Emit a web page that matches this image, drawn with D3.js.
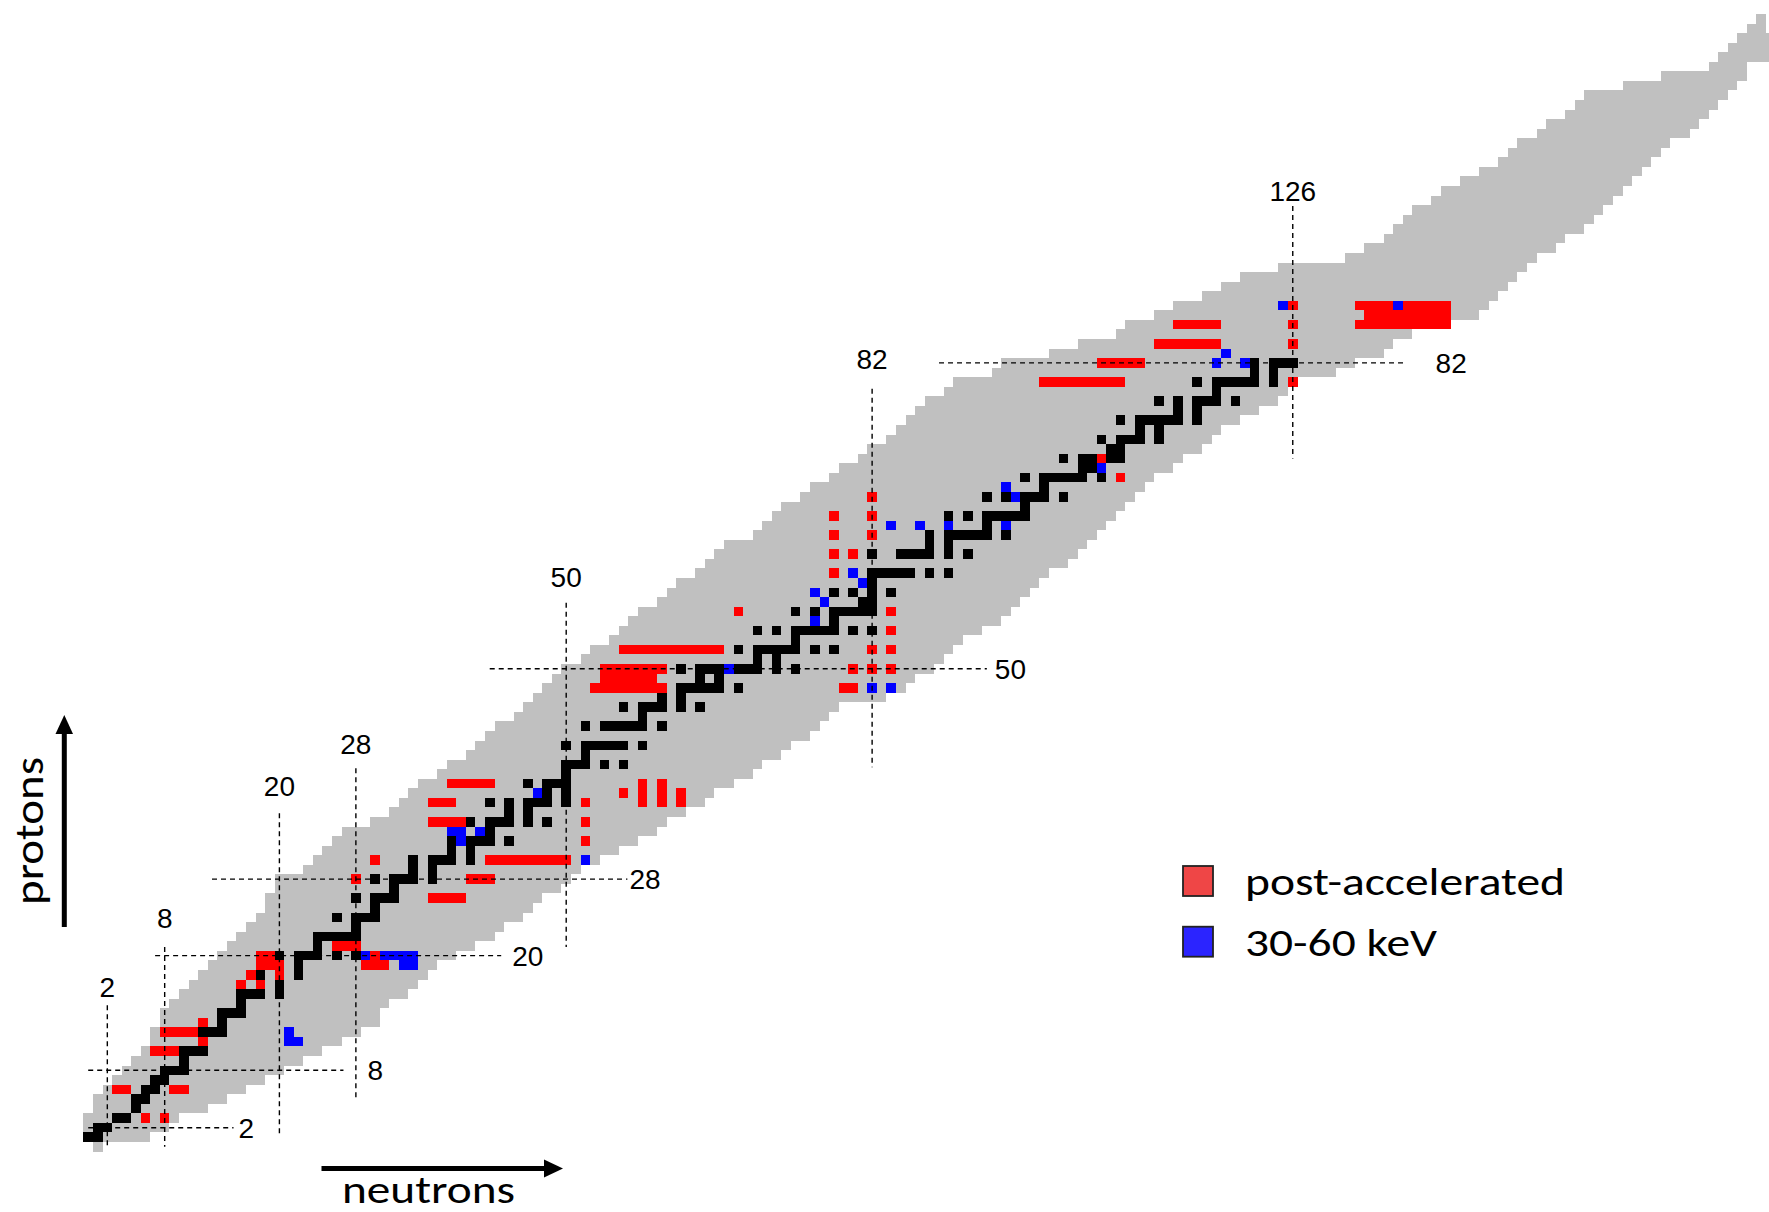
<!DOCTYPE html>
<html><head><meta charset="utf-8">
<script src="https://cdn.jsdelivr.net/npm/d3@7"></script>
<style>html,body{margin:0;padding:0;background:#fff;}svg{display:block;}</style>
</head><body>
<svg id="chart" width="1769" height="1212"></svg>
<script>
// ---------------- DATA ----------------
// Known-nuclide band: for each Z (index = proton number 0..118) the lowest and highest N
const bandMinN = [1,0,0,0,1,1,2,3,4,5,
  6,7,7,8,8,9,10,11,12,13,
  14,15,16,17,18,19,19,20,20,23,
  24,25,26,27,30,32,33,34,35,37,
  38,40,41,42,43,45,46,47,48,49,
  50,52,53,55,56,57,58,60,61,62,
  64,65,66,67,70,71,72,73,75,76,
  78,79,81,82,84,85,86,87,88,90,
  91,95,96,101,104,108,109,112,114,117,
  119,121,125,132,134,136,137,138,139,141,
  142,144,146,148,149,150,152,153,155,156,
  157,161,165,170,171,172,173,174,175];
const bandMaxN = [1,6,8,9,12,14,16,18,20,22,
  24,26,28,30,30,31,33,34,35,36,
  38,40,42,43,45,46,47,49,50,51,
  53,55,57,59,60,62,64,65,67,69,
  70,72,73,75,76,77,78,83,85,86,
  88,89,90,91,93,95,96,97,98,99,
  100,102,103,104,105,106,107,108,109,110,
  111,113,114,116,117,118,120,122,124,125,
  126,130,132,135,136,138,142,145,146,147,
  148,149,150,151,153,154,156,157,158,159,
  160,161,162,163,164,165,167,168,169,170,
  171,172,173,173,177,177,177,175,175];

// Stable nuclides (black): [Z, [N...]]
const stableNuclides = [
  [1,[0,1]],[2,[1,2]],[3,[3,4]],[4,[5]],[5,[5,6]],[6,[6,7]],[7,[7,8]],[8,[8,9,10]],[9,[10]],
  [10,[10,11,12]],[11,[12]],[12,[12,13,14]],[13,[14]],[14,[14,15,16]],[15,[16]],[16,[16,17,18,20]],
  [17,[18,20]],[18,[18,20,22]],[19,[20,22]],[20,[20,22,23,24,26,28]],[21,[24]],[22,[24,25,26,27,28]],
  [23,[28]],[24,[26,28,29,30]],[25,[30]],[26,[28,30,31,32]],[27,[32]],[28,[30,32,33,34,36]],
  [29,[34,36]],[30,[34,36,37,38,40]],[31,[38,40]],[32,[38,40,41,42,44]],[33,[42]],
  [34,[40,42,43,44,46,48]],[35,[44,46]],[36,[42,44,46,47,48,50]],[37,[48,50]],[38,[46,48,49,50]],
  [39,[50]],[40,[50,51,52,54,56]],[41,[52]],[42,[50,52,53,54,55,56,58]],[44,[52,54,55,56,57,58,60]],
  [45,[58]],[46,[56,58,59,60,62,64]],[47,[60,62]],[48,[58,60,62,63,64,65,66,68]],[49,[64,66]],
  [50,[62,64,65,66,67,68,69,70,72,74]],[51,[70,72]],[52,[68,70,71,72,73,74,76,78]],[53,[74]],
  [54,[70,72,74,75,76,77,78,80,82]],[55,[78]],[56,[74,76,78,79,80,81,82]],[57,[81,82]],
  [58,[78,80,82,84]],[59,[82]],[60,[82,83,84,85,86,88,90]],[62,[82,85,86,87,88,90,92]],
  [63,[88,90]],[64,[88,90,91,92,93,94,96]],[65,[94]],[66,[90,92,94,95,96,97,98]],[67,[98]],
  [68,[94,96,98,99,100,102]],[69,[100]],[70,[98,100,101,102,103,104,106]],[71,[104,105]],
  [72,[102,104,105,106,107,108]],[73,[107,108]],[74,[106,108,109,110,112]],[75,[110,112]],
  [76,[108,110,111,112,113,114,116]],[77,[114,116]],[78,[112,114,116,117,118,120]],[79,[118]],
  [80,[116,118,119,120,121,122,124]],[81,[122,124]],[82,[122,124,125,126]]
];

// Post-accelerated beams (red): [Z, [N...]]
const postAccelerated = [
  [3,[6,8]],[6,[3,4,9,10]],[10,[7,8,9]],[11,[12]],[12,[8,9,10,11]],[13,[12]],
  [17,[16,18]],[18,[17,20]],[19,[18,19,20,29,30,31]],[20,[18,19,30]],[21,[26,27,28]],
  [26,[36,37,38,39]],[28,[28,40,41,42]],[30,[30,42,43,44,45,46,47,48,49,50]],[32,[52]],
  [34,[36,37,38,39,52]],[36,[36,37,38,52,58,60,62]],[37,[56,58,60,62]],[38,[38,39,40,41,42,58,60]],
  [48,[53,54,55,56,57,58,59,60,79,80]],[49,[54,55,56,57,58,59]],[50,[54,55,56,57,58,59,60,80,82,84]],
  [52,[56,57,58,59,60,61,62,63,64,65,66,82,84]],[54,[84]],[56,[68,84]],[60,[78]],[62,[78,80]],
  [64,[78,82]],[66,[78,82]],[68,[82]],[70,[108]],[72,[106]],
  [80,[100,101,102,103,104,105,106,107,108,126]],[82,[106,107,108,109,110]],
  [84,[112,113,114,115,116,117,118,126]],
  [86,[114,115,116,117,118,126,133,134,135,136,137,138,139,140,141,142]],
  [87,[134,135,136,137,138,139,140,141,142]],
  [88,[126,133,134,135,136,137,138,139,140,141,142]]
];

// 30-60 keV beams (blue): [Z, [N...]]
const lowEnergy = [
  [11,[21,22]],[12,[21]],[19,[33,34]],[20,[29,31,32,33,34]],[30,[52]],[32,[39]],[33,[38,39,41]],
  [37,[47]],[48,[82,84]],[50,[67]],[55,[76]],[57,[77]],[58,[76]],[59,[81]],[60,[80]],
  [65,[84,87,90,96]],[68,[97]],[69,[96]],[71,[106]],[82,[118,121]],[83,[119]],[88,[125,137]]
];

const magicN = [2, 8, 20, 28, 50, 82, 126];
const magicZ = [2, 8, 20, 28, 50, 82];
const legendLabels = ["post-accelerated", "30-60 keV"];
const axisTitles = {x: "neutrons", y: "protons"};

// ---------------- LAYOUT ----------------
const CELL = 9.56;
const x = d3.scaleLinear().domain([0, 100]).range([88.2, 88.2 + 100 * CELL]);
const y = d3.scaleLinear().domain([0, 100]).range([1146.8, 1146.8 - 100 * CELL]);
const colors = {band: "#c0c0c0", stable: "#000000", post: "#ff0000", low: "#0000ff",
                legendPost: "#ef4646", legendLow: "#2b24ff"};
// extents of the dashed magic-number lines (data units) and label gaps (px)
const vLineLayout = {2:{z:[0,14.8],gap:8}, 8:{z:[0,20.9],gap:19}, 20:{z:[1.05,34.9],gap:17},
  28:{z:[5.1,39.6],gap:14}, 50:{z:[20.9,56.9],gap:16}, 82:{z:[39.7,79.3],gap:20}, 126:{z:[72,98.4],gap:5}};
const hLineLayout = {2:{n:[0,15.2],gap:5}, 8:{n:[0,26.7],gap:24}, 20:{n:[7,43.2],gap:11},
  28:{n:[12.95,56.4],gap:2}, 50:{n:[42,94],gap:8}, 82:{n:[89,137.7],gap:31}};

const svg = d3.select("#chart");
svg.append("rect").attr("width",1769).attr("height",1212).attr("fill","#fff");

function flatten(list){ const out=[]; list.forEach(([z,ns])=>ns.forEach(n=>out.push({z,n}))); return out; }
function cells(g, data, color){
  g.selectAll(null).data(data).join("rect")
    .attr("x", d => x(d.n - 0.5))
    .attr("y", d => y(d.z + 0.5))
    .attr("width", d => x(d.n + 0.5) - x(d.n - 0.5))
    .attr("height", d => y(d.z - 0.5) - y(d.z + 0.5))
    .attr("fill", color);
}

// band
const bandRows = bandMinN.map((mn, z) => ({z, mn, mx: bandMaxN[z]}));
svg.append("g").attr("shape-rendering","crispEdges")
  .selectAll("rect").data(bandRows).join("rect")
  .attr("x", d => x(d.mn - 0.5))
  .attr("y", d => y(d.z + 0.5))
  .attr("width", d => x(d.mx + 0.5) - x(d.mn - 0.5))
  .attr("height", d => y(d.z - 0.5) - y(d.z + 0.5))
  .attr("fill", colors.band);

const gCells = svg.append("g").attr("shape-rendering","crispEdges");
cells(gCells.append("g"), flatten(stableNuclides), colors.stable);
cells(gCells.append("g"), flatten(postAccelerated), colors.post);
cells(gCells.append("g"), flatten(lowEnergy), colors.low);

// magic number lines
const gMagic = svg.append("g");
const numFont = "'Liberation Sans', Arial, sans-serif";
magicN.forEach(m => {
  const L = vLineLayout[m];
  gMagic.append("line").attr("x1", x(m)).attr("x2", x(m))
    .attr("y1", y(L.z[1])).attr("y2", y(L.z[0]))
    .attr("stroke","#000").attr("stroke-width",1.4).attr("stroke-dasharray","5,4");
  gMagic.append("text").attr("x", x(m)).attr("y", y(L.z[1]) - L.gap)
    .attr("text-anchor","middle").attr("font-family",numFont).attr("font-size",28)
    .attr("fill","#000").text(m);
});
magicZ.forEach(m => {
  const L = hLineLayout[m];
  gMagic.append("line").attr("x1", x(L.n[0])).attr("x2", x(L.n[1]))
    .attr("y1", y(m)).attr("y2", y(m))
    .attr("stroke","#000").attr("stroke-width",1.4).attr("stroke-dasharray","5,4");
  gMagic.append("text").attr("x", x(L.n[1]) + L.gap).attr("y", y(m))
    .attr("dy","0.36em").attr("text-anchor","start").attr("font-family",numFont)
    .attr("font-size",28).attr("fill","#000").text(m);
});

// axis arrows & titles
const txtFont = "Carlito, Calibri, 'Open Sans', sans-serif";
const gAx = svg.append("g");
gAx.append("line").attr("x1",321.5).attr("x2",548).attr("y1",1168.5).attr("y2",1168.5)
  .attr("stroke","#000").attr("stroke-width",5);
gAx.append("polygon").attr("points","544,1159.5 563,1168.5 544,1177.5").attr("fill","#000");
gAx.append("text").attr("x",428.5).attr("y",1203).attr("text-anchor","middle")
  .attr("font-family",txtFont).attr("font-size",38).attr("textLength",173)
  .attr("lengthAdjust","spacingAndGlyphs").text(axisTitles.x);
gAx.append("line").attr("x1",64.3).attr("x2",64.3).attr("y1",927).attr("y2",730)
  .attr("stroke","#000").attr("stroke-width",5);
gAx.append("polygon").attr("points","55.5,734 64.3,715 73,734").attr("fill","#000");
gAx.append("text").attr("transform","translate(43,831) rotate(-90)")
  .attr("text-anchor","middle").attr("font-family",txtFont).attr("font-size",42)
  .attr("textLength",148).attr("lengthAdjust","spacingAndGlyphs").text(axisTitles.y);

// legend
const gLeg = svg.append("g");
const legColors = [colors.legendPost, colors.legendLow];
const legWidths = [320, 192];
legendLabels.forEach((lab, i) => {
  const ty = 866 + i * 60.7;
  gLeg.append("rect").attr("x",1183).attr("y",ty).attr("width",30).attr("height",30)
    .attr("fill",legColors[i]).attr("stroke","#222").attr("stroke-width",1.8);
  gLeg.append("text").attr("x",1245).attr("y",ty + 29).attr("font-family",txtFont)
    .attr("font-size",39).attr("textLength",legWidths[i]).attr("lengthAdjust","spacingAndGlyphs")
    .attr("fill","#000").text(lab);
});
</script>
</body></html>
